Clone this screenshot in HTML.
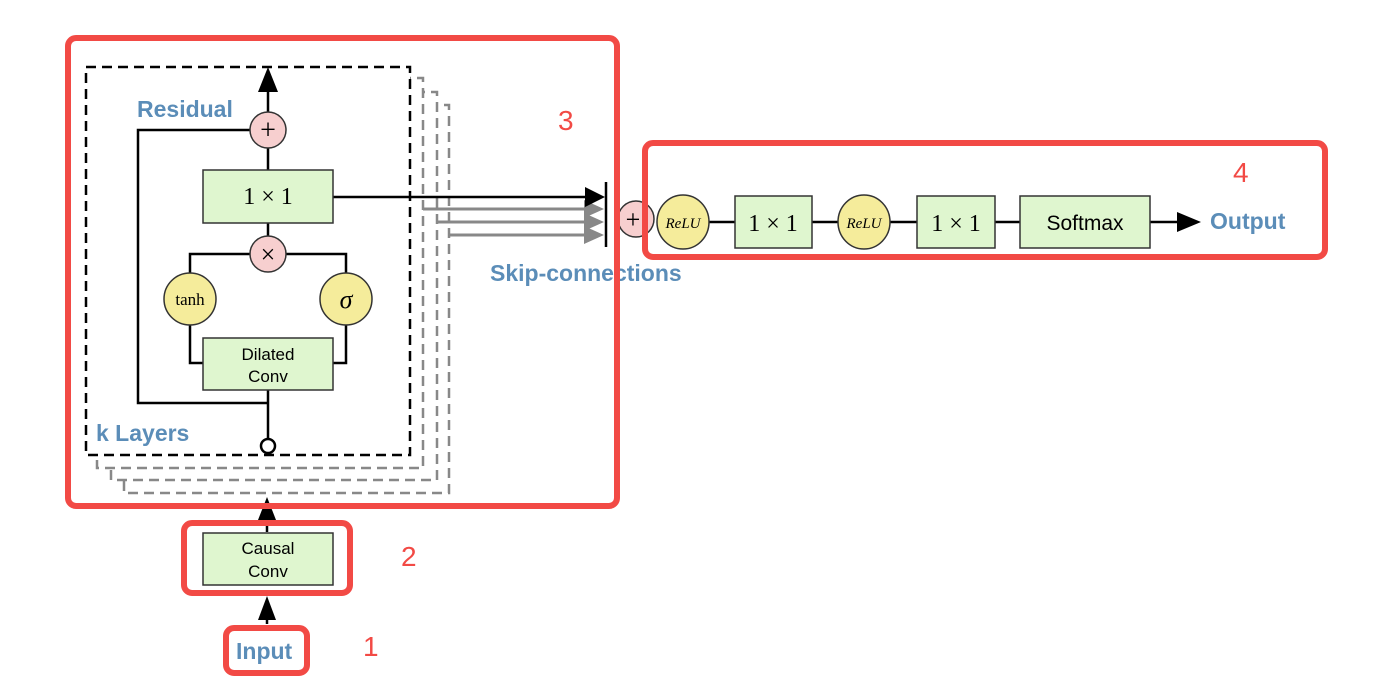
<!DOCTYPE html>
<html><head><meta charset="utf-8"><style>
html,body{margin:0;padding:0;background:#fff;}
svg{display:block;}
.b{font-family:"Liberation Sans",sans-serif;font-weight:bold;fill:#5b8db8;font-size:23px;}
.t{font-family:"Liberation Sans",sans-serif;fill:#000;font-size:17px;}
.m{font-family:"Liberation Serif",serif;fill:#000;}
.r{font-family:"Liberation Sans",sans-serif;fill:#f24a45;font-size:28px;}
</style></head><body>
<svg width="1384" height="700" viewBox="0 0 1384 700" xmlns="http://www.w3.org/2000/svg">
<defs>
<marker id="ab" markerWidth="10" markerHeight="10" refX="9" refY="5" orient="auto" markerUnits="userSpaceOnUse"><path d="M0,0 L10,5 L0,10z" fill="#000"/></marker>
</defs>
<!-- back gray dashed layers -->
<g fill="#fff" stroke="#888" stroke-width="2.5" stroke-dasharray="10,6">
<rect x="124" y="105" width="325" height="388"/>
<rect x="111" y="92" width="326" height="388"/>
<rect x="97" y="78" width="326" height="390"/>
</g>
<rect x="86" y="67" width="324" height="388" fill="#fff" stroke="#000" stroke-width="2.5" stroke-dasharray="10,6"/>
<!-- gray skip arrows -->
<g stroke="#888" stroke-width="3" fill="#888">
<line x1="423" y1="209" x2="590" y2="209"/><path d="M584,200 L604,209 L584,218z" stroke="none"/>
<line x1="437" y1="222" x2="590" y2="222"/><path d="M584,213 L604,222 L584,231z" stroke="none"/>
<line x1="449" y1="235" x2="590" y2="235"/><path d="M584,226 L604,235 L584,244z" stroke="none"/>
</g>
<!-- wiring -->
<g stroke="#000" stroke-width="2.5" fill="none">
<line x1="268" y1="112" x2="268" y2="90"/>
<line x1="268" y1="148" x2="268" y2="170"/>
<line x1="268" y1="223" x2="268" y2="236"/>
<polyline points="250,130 138,130 138,403 268,403"/>
<line x1="268" y1="390" x2="268" y2="439"/>
<polyline points="250,254 190,254 190,273"/>
<polyline points="286,254 346,254 346,273"/>
<polyline points="190,325 190,363 203,363"/>
<polyline points="346,325 346,363 333,363"/>
<line x1="333" y1="197" x2="590" y2="197"/>
<line x1="606" y1="182" x2="606" y2="247"/>
<line x1="267" y1="624" x2="267" y2="600"/>
<line x1="267" y1="532" x2="267" y2="512"/>
<line x1="709" y1="222" x2="735" y2="222"/>
<line x1="812" y1="222" x2="838" y2="222"/>
<line x1="890" y1="222" x2="917" y2="222"/>
<line x1="995" y1="222" x2="1020" y2="222"/>
<line x1="1150" y1="222" x2="1180" y2="222"/>
</g>
<g fill="#000">
<path d="M258,92 L268,67 L278,92z"/>
<path d="M585,187 L605,197 L585,207z"/>
<path d="M258,620 L267,596 L276,620z"/>
<path d="M258,520 L267,497 L276,520z"/>
<path d="M1177,212 L1201,222 L1177,232z"/>
</g>
<circle cx="268" cy="446" r="7" fill="#fff" stroke="#000" stroke-width="2.5"/>
<!-- nodes -->
<g stroke="#333" stroke-width="1.5">
<circle cx="268" cy="130" r="18" fill="#f7cfcf"/>
<circle cx="268" cy="254" r="18" fill="#f7cfcf"/>
<circle cx="190" cy="299" r="26" fill="#f5ec9b"/>
<circle cx="346" cy="299" r="26" fill="#f5ec9b"/>
<rect x="203" y="170" width="130" height="53" fill="#dff6cf"/>
<rect x="203" y="338" width="130" height="52" fill="#dff6cf"/>
<rect x="203" y="533" width="130" height="52" fill="#dff6cf"/>
<circle cx="636" cy="219" r="18" fill="#f7cfcf"/>
<ellipse cx="683" cy="222" rx="26" ry="27" fill="#f5ec9b"/>
<ellipse cx="864" cy="222" rx="26" ry="27" fill="#f5ec9b"/>
<rect x="735" y="196" width="77" height="52" fill="#dff6cf"/>
<rect x="917" y="196" width="78" height="52" fill="#dff6cf"/>
<rect x="1020" y="196" width="130" height="52" fill="#dff6cf"/>
</g>
<g class="m" text-anchor="middle">
<text x="268" y="139" font-size="28">+</text>
<text x="268" y="263" font-size="26">×</text>
<text x="268" y="204" font-size="24">1 × 1</text>
<text x="190" y="305" font-size="17">tanh</text>
<text x="346" y="308" font-size="26" font-style="italic">σ</text>
<text x="633" y="228" font-size="26">+</text>
<text x="683" y="228" font-size="15" font-style="italic">ReLU</text>
<text x="864" y="228" font-size="15" font-style="italic">ReLU</text>
<text x="773" y="231" font-size="24">1 × 1</text>
<text x="956" y="231" font-size="24">1 × 1</text>
</g>
<g class="t" text-anchor="middle">
<text x="268" y="360">Dilated</text>
<text x="268" y="382">Conv</text>
<text x="268" y="554">Causal</text>
<text x="268" y="577">Conv</text>
<text x="1085" y="230" font-size="21">Softmax</text>
</g>
<text class="b" x="137" y="117">Residual</text>
<text class="b" x="96" y="441">k Layers</text>
<text class="b" x="490" y="281">Skip-connections</text>
<text class="b" x="1210" y="229">Output</text>
<text class="b" x="236" y="659">Input</text>
<!-- red annotation boxes -->
<g fill="none" stroke="#f24a45" stroke-width="6">
<rect x="68" y="38" width="549" height="468" rx="8"/>
<rect x="645" y="143" width="680" height="114" rx="8"/>
<rect x="184" y="523" width="166" height="70" rx="8"/>
<rect x="226" y="628" width="81" height="45" rx="8"/>
</g>
<text class="r" x="558" y="130">3</text>
<text class="r" x="1233" y="182">4</text>
<text class="r" x="401" y="566">2</text>
<text class="r" x="363" y="656">1</text>
</svg>
</body></html>
